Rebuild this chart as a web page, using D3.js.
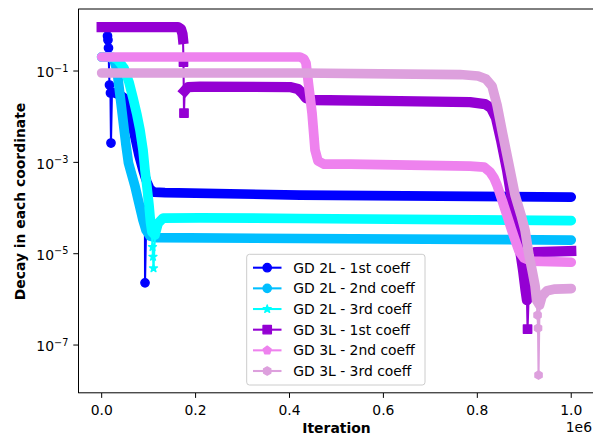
<!DOCTYPE html>
<html><head><meta charset="utf-8">
<script src="https://cdn.jsdelivr.net/npm/d3@7"></script>
<style>body{margin:0;background:#fff}svg{display:block}text{font-family:"DejaVu Sans",sans-serif}</style>
</head><body><div id="chart"></div>
<script>
// ---------------- data ----------------
const seriesNames = ["GD 2L - 1st coeff","GD 2L - 2nd coeff","GD 2L - 3rd coeff","GD 3L - 1st coeff","GD 3L - 2nd coeff","GD 3L - 3rd coeff"];
const seriesColors = ["#0000ff","#00bfff","#00ffff","#9400d3","#ee82ee","#dda0dd"];
const seriesMarkers = ["circle","circle","star","square","pentagon","hexagon"];
const xTicks = [0,200000,400000,600000,800000,1000000];
const xTickLabels = ["0.0","0.2","0.4","0.6","0.8","1.0"];
const yTicks = [1e-1,1e-3,1e-5,1e-7];
const yTickExps = ["\u22121","\u22123","\u22125","\u22127"];

// densely sampled part of each curve ([iteration, value]; null = gap)
const gd2l1Band = [[21900,0.0347],[39000,0.0298],[53900,0.0232],[62400,8.5e-3],[70900,3.6e-3],[79400,1.44e-3],[88000,6.8e-4],[92000,5.0e-4],[96500,3.7e-4],[102900,2.6e-4],[111400,2.23e-4],[134800,2.18e-4],[422400,1.92e-4],[1000000,1.74e-4]];
const gd2l2Band = [[0,0.203],[17700,0.203],[26200,0.174],[32600,0.105],[39000,0.0298],[45400,8.45e-3],[51800,2.39e-3],[57100,9.66e-4],[62400,6.13e-4],[70900,3.03e-4],[79400,1.28e-4],[88000,5.44e-5],[94400,3.29e-5],[102900,2.43e-5],[115700,2.25e-5],[422400,2.15e-5],[1000000,1.99e-5]];
const gd2l3Band = [[0,0.203],[21900,0.203],[34700,0.174],[47500,0.116],[58100,0.0574],[66700,0.0256],[75200,0.0109],[81600,5.1e-3],[88000,1.86e-3],[92200,6.78e-4],[96500,2.88e-4],[100800,1.16e-4],[104000,4.9e-5],[107100,2.97e-5],[113500,2.55e-5],[120000,4.6e-5],[130600,6.0e-5],[209400,6.1e-5],[422400,5.9e-5],[1000000,5.3e-5]];
const gd3l1Band = [[0,0.919],[162500,0.919],[168900,0.832],[172100,0.647],[173200,0.502],null,[176700,0.0368],[183800,0.0446],[209400,0.0457],[401100,0.0446],[418100,0.0403],[426700,0.033],[435200,0.0256],[448000,0.0232],[635400,0.022],[784500,0.0209],[816400,0.0189],[829200,0.0155],[839900,9.34e-3],[850500,3.08e-3],[863300,6.8e-4],[873900,1.49e-4],[884500,3.3e-5],[891000,1.2e-5],[897400,4.37e-6],[902700,1.59e-6],[905800,9.6e-7],[910100,2.05e-6],[914400,6.5e-6],[922900,1.08e-5],[1000000,1.14e-5]];
const gd3l2Band = [[0,0.203],[422400,0.203],[430900,0.183],[435200,0.149],[441500,0.0424],[448000,0.012],[454400,1.86e-3],[460700,1.07e-3],[473500,9.18e-4],[528900,9.18e-4],[784500,8.3e-4],[814300,7.89e-4],[827100,6.13e-4],[835600,4.54e-4],[842000,3.2e-4],[852700,1.49e-4],[864400,6.33e-5],[871800,3.64e-5],[880400,1.99e-5],[888900,1.14e-5],[899500,8.0e-6],[914400,6.9e-6],[1000000,6.5e-6]];
const gd3l3Band = [[0,0.0904],[422400,0.0904],[763200,0.0838],[801500,0.0777],[818600,0.0668],[831300,0.0469],[842000,0.018],[853700,4.38e-3],[867600,8.7e-4],[880400,1.92e-4],[893100,7.0e-5],[901600,3.3e-5],[910100,9.3e-6],[916600,4.37e-6],[922900,2.0e-6],[926200,9.6e-7],[932500,7.5e-7],[937800,1.18e-6],[948400,1.55e-6],[965500,1.68e-6],[1000000,1.72e-6]];

// isolated samples (oscillations / sign changes)
const gd2l1Sparse = [[12400,0.584],[13400,0.477],[14500,0.319],[16600,0.0493],[18700,0.033],[19800,2.65e-3],[92300,2.3e-6]];
const gd2l2Sparse = [];
const gd2l3Sparse = [[108200,1.4e-5],[109300,8.6e-6],[110400,4.8e-6]];
const gd3l1Sparse = [[174200,0.157],[175300,0.012],[907000,2.23e-7]];
const gd3l2Sparse = [];
const gd3l3Sparse = [[928300,4.52e-7],[929300,2.34e-7],[930400,2.2e-8]];

const bands = [gd2l1Band,gd2l2Band,gd2l3Band,gd3l1Band,gd3l2Band,gd3l3Band];
const sparse = [gd2l1Sparse,gd2l2Sparse,gd2l3Sparse,gd3l1Sparse,gd3l2Sparse,gd3l3Sparse];

// ---------------- chart ----------------
const W = 593, H = 436;
const L = 78.2, R = 594.7, T = 9, B = 393;
const x = d3.scaleLinear().domain([-50000,1050000]).range([L,R]);
const y = d3.scaleLog().domain([Math.pow(10,-8.05), Math.pow(10,0.358)]).range([B,T]);

const svg = d3.select("#chart").append("svg").attr("width",W).attr("height",H);
svg.append("defs").append("clipPath").attr("id","clip")
  .append("rect").attr("x",L).attr("y",T).attr("width",R-L).attr("height",B-T);

const MS = 8.33, MEW = 1.39, LW = 2.08, BANDW = 9.7;

function markerPath(type, r){
  if(type==="circle") return d3.symbol(d3.symbolCircle, Math.PI*r*r)();
  if(type==="square") return d3.symbol(d3.symbolSquare, 4*r*r)();
  if(type==="star"){
    const pts=[]; const ri=r*0.381966;
    for(let i=0;i<10;i++){const a=-Math.PI/2+i*Math.PI/5; const rr=i%2?ri:r; pts.push([rr*Math.cos(a),rr*Math.sin(a)]);}
    return "M"+pts.map(p=>p.join(",")).join("L")+"Z";
  }
  const n = type==="pentagon"?5:6;
  const pts=[];
  for(let i=0;i<n;i++){const a=-Math.PI/2+i*2*Math.PI/n; pts.push([r*Math.cos(a),r*Math.sin(a)]);}
  return "M"+pts.map(p=>p.join(",")).join("L")+"Z";
}

const plot = svg.append("g").attr("clip-path","url(#clip)");
const thin = d3.line().x(d=>x(d[0])).y(d=>y(d[1]));
const band = d3.line().defined(d=>d!==null).x(d=>x(d[0])).y(d=>y(d[1]));

bands.forEach((bd,i)=>{
  const col = seriesColors[i];
  const all = bd.filter(d=>d!==null).concat(sparse[i]).sort((a,b)=>a[0]-b[0]);
  const g = plot.append("g");
  g.append("path").attr("d",thin(all)).attr("fill","none").attr("stroke",col).attr("stroke-width",LW);
  g.append("path").attr("d",band(bd)).attr("fill","none").attr("stroke",col)
    .attr("stroke-width", seriesMarkers[i]==="square"?10.3:BANDW)
    .attr("stroke-linecap", seriesMarkers[i]==="square"?"square":"round")
    .attr("stroke-linejoin","round");
  g.selectAll("path.mk").data(sparse[i]).join("path").attr("class","mk")
    .attr("transform",d=>`translate(${x(d[0])},${y(d[1])})`)
    .attr("d",markerPath(seriesMarkers[i], MS/2))
    .attr("fill",col).attr("stroke",col).attr("stroke-width",MEW).attr("stroke-linejoin","round");
});

// spines
svg.append("line").attr("x1",L).attr("x2",R).attr("y1",T).attr("y2",T).attr("stroke","#000").attr("stroke-width",1);
svg.append("line").attr("x1",78.5).attr("x2",78.5).attr("y1",T).attr("y2",B).attr("stroke","#000").attr("stroke-width",1);
svg.append("line").attr("x1",L).attr("x2",R).attr("y1",392.8).attr("y2",392.8).attr("stroke","#000").attr("stroke-width",1);

// x ticks
xTicks.forEach((t,i)=>{
  const px = x(t);
  svg.append("line").attr("x1",px).attr("x2",px).attr("y1",B).attr("y2",B+4.9).attr("stroke","#000").attr("stroke-width",1);
  svg.append("text").attr("x",px).attr("y",415).attr("text-anchor","middle").attr("font-size",13.9).text(xTickLabels[i]);
});
// y ticks
yTicks.forEach((t,i)=>{
  const py = y(t);
  svg.append("line").attr("x1",L-4.9).attr("x2",L).attr("y1",py).attr("y2",py).attr("stroke","#000").attr("stroke-width",1);
  const tx = svg.append("text").attr("x",68.3).attr("y",py+6.3).attr("text-anchor","end").attr("font-size",13.9);
  tx.append("tspan").text("10");
  tx.append("tspan").attr("font-size",9.7).attr("dy",-5.6).text(yTickExps[i]);
});

// labels
svg.append("text").attr("x",(L+R)/2).attr("y",433.3).attr("text-anchor","middle")
  .attr("font-size",13.9).attr("font-weight","bold").text("Iteration");
svg.append("text").attr("x",592).attr("y",432.3).attr("text-anchor","end").attr("font-size",13.9).text("1e6");
svg.append("text").attr("transform","translate(25.3,201.5) rotate(-90)").attr("text-anchor","middle")
  .attr("font-size",13.9).attr("font-weight","bold").text("Decay in each coordinate");

// legend
const lg = svg.append("g");
lg.append("rect").attr("x",246.7).attr("y",254.3).attr("width",178.3).attr("height",130.7).attr("rx",2.8)
  .attr("fill","#fff").attr("fill-opacity",0.8).attr("stroke","#cccccc").attr("stroke-width",1);
seriesNames.forEach((nm,i)=>{
  const cy = 267.7 + i*20.66;
  const col = seriesColors[i];
  lg.append("line").attr("x1",253).attr("x2",281.5).attr("y1",cy).attr("y2",cy).attr("stroke",col).attr("stroke-width",LW);
  lg.append("path").attr("transform",`translate(267.2,${cy})`).attr("d",markerPath(seriesMarkers[i],MS/2))
    .attr("fill",col).attr("stroke",col).attr("stroke-width",MEW).attr("stroke-linejoin","round");
  lg.append("text").attr("x",293.3).attr("y",cy+5.1).attr("font-size",13.9).text(nm);
});
</script></body></html>
